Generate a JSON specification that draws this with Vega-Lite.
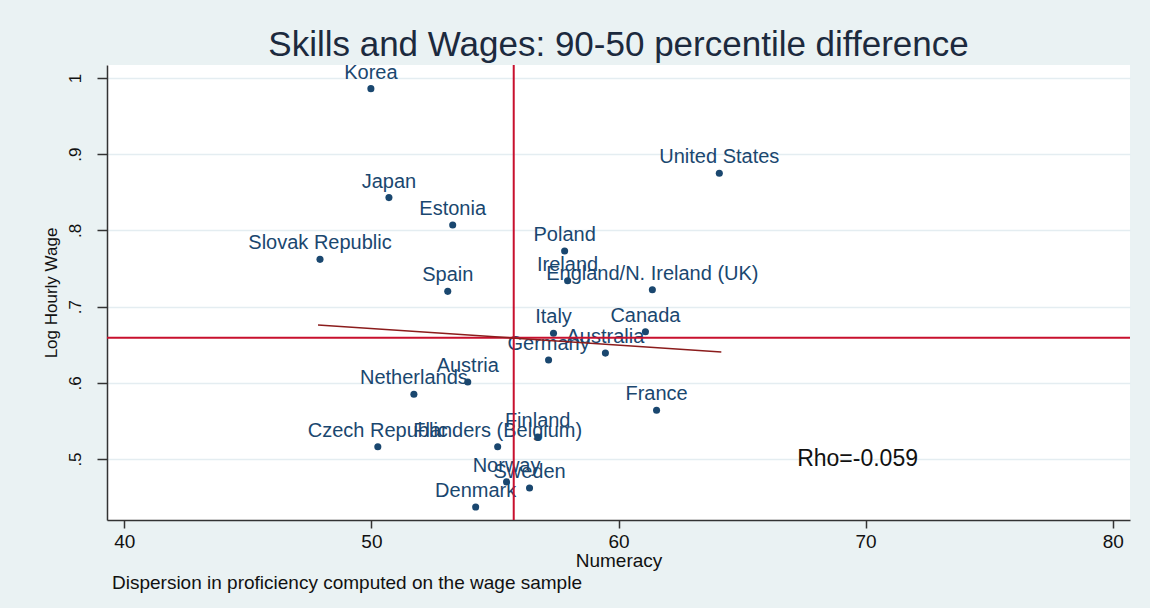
{
  "$schema": "https://vega.github.io/schema/vega-lite/v6.json",
  "background": "#eaf2f3",
  "padding": {"left": 42, "top": 27, "right": 19, "bottom": 15},
  "title": {
    "text": "Dispersion in proficiency computed on the wage sample",
    "orient": "bottom", "anchor": "start", "frame": "bounds",
    "dx": 70, "offset": 4,
    "font": "Liberation Sans", "fontSize": 19, "fontWeight": "normal", "color": "#111111"
  },
  "config": {
    "view": {"stroke": null, "fill": "white"},
    "font": "Liberation Sans"
  },
  "vconcat": [
    {
      "width": 1023,
      "height": 455,
      "title": {
        "text": "Skills and Wages: 90-50 percentile difference",
        "anchor": "middle", "frame": "group",
        "font": "Liberation Sans", "fontSize": 35, "fontWeight": "normal",
        "color": "#1c2a3e", "offset": 0
      },
      "layer": [
        {
          "data": {"values": [
            {"country": "Korea", "numeracy": 49.98, "wage": 0.986},
            {"country": "United States", "numeracy": 64.08, "wage": 0.875},
            {"country": "Japan", "numeracy": 50.71, "wage": 0.843},
            {"country": "Estonia", "numeracy": 53.29, "wage": 0.807},
            {"country": "Poland", "numeracy": 57.82, "wage": 0.773},
            {"country": "Slovak Republic", "numeracy": 47.92, "wage": 0.762},
            {"country": "Ireland", "numeracy": 57.94, "wage": 0.734},
            {"country": "England/N. Ireland (UK)", "numeracy": 61.37, "wage": 0.722},
            {"country": "Spain", "numeracy": 53.09, "wage": 0.72},
            {"country": "Italy", "numeracy": 57.37, "wage": 0.665},
            {"country": "Canada", "numeracy": 61.09, "wage": 0.667},
            {"country": "Australia", "numeracy": 59.47, "wage": 0.639},
            {"country": "Germany", "numeracy": 57.17, "wage": 0.63},
            {"country": "Austria", "numeracy": 53.9, "wage": 0.601},
            {"country": "Netherlands", "numeracy": 51.72, "wage": 0.585},
            {"country": "France", "numeracy": 61.54, "wage": 0.564},
            {"country": "Finland", "numeracy": 56.73, "wage": 0.529},
            {"country": "Flanders (Belgium)", "numeracy": 55.11, "wage": 0.516},
            {"country": "Czech Republic", "numeracy": 50.26, "wage": 0.516},
            {"country": "Norway", "numeracy": 55.47, "wage": 0.47},
            {"country": "Sweden", "numeracy": 56.4, "wage": 0.462},
            {"country": "Denmark", "numeracy": 54.22, "wage": 0.437}
          ]},
          "layer": [
            {
              "mark": {"type": "circle", "size": 50, "opacity": 1, "color": "#1a476f"},
              "encoding": {
                "x": {
                  "field": "numeracy", "type": "quantitative",
                  "scale": {"domain": [39.3, 80.7], "nice": false, "zero": false},
                  "axis": {
                    "title": "Numeracy", "values": [40, 50, 60, 70, 80], "grid": false,
                    "tickSize": 8, "tickColor": "#333333", "tickWidth": 1.5,
                    "domainColor": "#333333", "domainWidth": 1.5,
                    "labelFontSize": 19, "labelColor": "#111111", "labelPadding": 4,
                    "titleFontSize": 19, "titleFontWeight": "normal", "titleColor": "#111111", "titlePadding": 0
                  }
                },
                "y": {
                  "field": "wage", "type": "quantitative",
                  "scale": {"domain": [0.42, 1.017], "nice": false, "zero": false},
                  "axis": {
                    "title": "Log Hourly Wage", "values": [0.5, 0.6, 0.7, 0.8, 0.9, 1],
                    "labelExpr": "datum.value == 1 ? '1' : replace(format(datum.value, '.1f'), '0.', '.')",
                    "labelAngle": -90, "labelAlign": "center", "labelBaseline": "bottom",
                    "grid": true, "gridColor": "#e4edf1", "gridWidth": 1.5,
                    "tickSize": 10, "tickColor": "#333333", "tickWidth": 1.5,
                    "domainColor": "#333333", "domainWidth": 1.5,
                    "labelFontSize": 17, "labelColor": "#111111", "labelPadding": 13,
                    "titleFontSize": 17, "titleFontWeight": "normal", "titleColor": "#111111", "titlePadding": 6
                  }
                }
              }
            },
            {
              "mark": {"type": "text", "align": "center", "baseline": "alphabetic", "dy": -10, "fontSize": 20, "color": "#1a476f"},
              "encoding": {
                "x": {"field": "numeracy", "type": "quantitative"},
                "y": {"field": "wage", "type": "quantitative"},
                "text": {"field": "country"}
              }
            }
          ]
        },
        {
          "data": {"values": [{"numeracy": 55.76}]},
          "mark": {"type": "rule", "color": "#c8102e", "strokeWidth": 2},
          "encoding": {"x": {"field": "numeracy", "type": "quantitative"}}
        },
        {
          "data": {"values": [{"wage": 0.659}]},
          "mark": {"type": "rule", "color": "#c8102e", "strokeWidth": 2},
          "encoding": {"y": {"field": "wage", "type": "quantitative"}}
        },
        {
          "data": {"values": [
            {"numeracy": 47.84, "wage": 0.676},
            {"numeracy": 64.16, "wage": 0.6404}
          ]},
          "mark": {"type": "line", "color": "#8b1c1c", "strokeWidth": 1.5},
          "encoding": {
            "x": {"field": "numeracy", "type": "quantitative"},
            "y": {"field": "wage", "type": "quantitative"}
          }
        },
        {
          "data": {"values": [{"numeracy": 67.23, "wage": 0.491, "note": "Rho=-0.059"}]},
          "mark": {"type": "text", "align": "left", "baseline": "alphabetic", "fontSize": 23, "color": "#111111"},
          "encoding": {
            "x": {"field": "numeracy", "type": "quantitative"},
            "y": {"field": "wage", "type": "quantitative"},
            "text": {"field": "note"}
          }
        }
      ]
    }
  ]
}
